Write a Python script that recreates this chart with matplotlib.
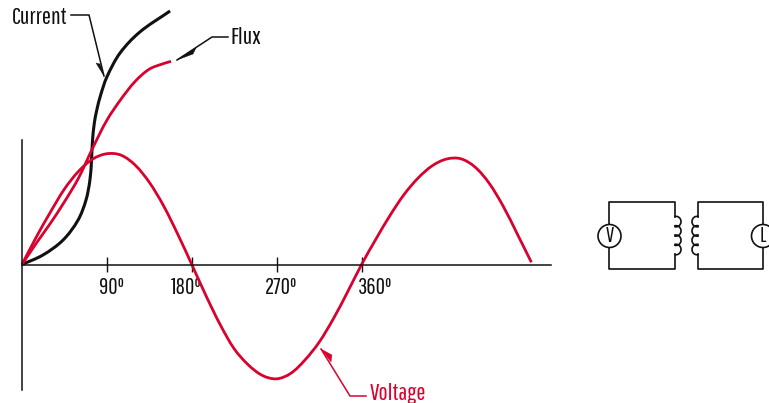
import numpy as np
import matplotlib
matplotlib.use("Agg")
import matplotlib.pyplot as plt
from matplotlib.path import Path
from matplotlib.patches import PathPatch, Circle, Arc, Polygon
from matplotlib.transforms import IdentityTransform

W, H = 769, 403
FONT = ["Pathway Gothic One", "Archivo Narrow", "Barlow Condensed", "Liberation Sans", "DejaVu Sans"]
RED = "#D9022E"
BLACK = "#111111"

# Values: x in electrical degrees, y in units of peak voltage
volt_deg = [0, 15, 30, 45, 60, 75, 90, 105, 120, 135, 150, 165, 180, 195, 210, 225, 240, 255, 270, 285,
            300, 315, 330, 345, 360, 375, 390, 405, 420, 435, 450, 465, 480, 495, 510, 525, 540]
volt_val = [0, 0.245, 0.47, 0.68, 0.84, 0.95, 0.998, 0.985, 0.895, 0.74, 0.53, 0.275, 0.0, -0.28, -0.54,
            -0.76, -0.905, -1.0, -1.03, -0.98, -0.86, -0.70, -0.49, -0.25, 0.0, 0.226, 0.44, 0.63, 0.78,
            0.89, 0.95, 0.953, 0.88, 0.735, 0.527, 0.276, 0.02]
flux_deg = [0, 15, 30, 45, 60, 75, 90, 105, 120, 135, 150, 158]
flux_val = [0, 0.19, 0.37, 0.565, 0.78, 1.05, 1.30, 1.49, 1.65, 1.76, 1.81, 1.83]
curr_deg = [0, 22.3, 43.5, 59.4, 67.8, 72, 73.7, 74.6, 76.6, 79.5, 83.5, 90, 103.9, 125, 157]
curr_val = [0, 0.086, 0.22, 0.40, 0.58, 0.76, 0.94, 1.10, 1.27, 1.40, 1.53, 1.69, 1.905, 2.095, 2.284]
tick_deg = [90, 180, 270, 360]
tick_labels = ["90º", "180º", "270º", "360º"]
label_deg = [95, 174, 275, 374]

# Pixel layout
X0, PX_PER_DEG = 22.0, 0.9433
Y0, PX_PER_UNIT = 264.5, 111.0

fig = plt.figure(figsize=(W / 100, H / 100), dpi=100)
ax = fig.add_axes([0, 0, 1, 1])
ax.set_xlim(-X0 / PX_PER_DEG, (W - X0) / PX_PER_DEG)
ax.set_ylim((Y0 - H) / PX_PER_UNIT, Y0 / PX_PER_UNIT)
ax.axis("off")
px = fig.add_axes([0, 0, 1, 1], facecolor="none")
px.set_xlim(0, W)
px.set_ylim(H, 0)
px.axis("off")


def smooth(axes, x, y, **kw):
    """Smooth Bezier curve through the points, worked out in screen space."""
    p = axes.transData.transform(np.column_stack([x, y]))
    seg = np.linalg.norm(np.diff(p, axis=0), axis=1)
    d = np.zeros_like(p)
    d[1:-1] = p[2:] - p[:-2]
    d[0] = p[1] - p[0]
    d[-1] = p[-1] - p[-2]
    d /= np.linalg.norm(d, axis=1, keepdims=True)
    verts = [p[0]]
    codes = [Path.MOVETO]
    for i in range(len(p) - 1):
        h = seg[i] / 3
        verts += [p[i] + d[i] * h, p[i + 1] - d[i + 1] * h, p[i + 1]]
        codes += [Path.CURVE4] * 3
    axes.add_patch(PathPatch(Path(verts, codes), fill=False, capstyle="butt", joinstyle="round",
                             transform=IdentityTransform(), **kw))


# Axes lines and ticks
px.plot([22, 22], [140, 390], color=BLACK, lw=1.1)
px.plot([22, 551], [264.5, 264.5], color=BLACK, lw=1.1)
ax.vlines(tick_deg, -0.0675, 0.0675, color=BLACK, lw=1.0)
for d, s in zip(label_deg, tick_labels):
    ax.text(d, -0.21, s, family=FONT, fontsize=16.5, color=BLACK, ha="center", va="center", zorder=1)

# Curves
smooth(ax, curr_deg, curr_val, edgecolor=BLACK, lw=2.2, zorder=3)
smooth(ax, flux_deg, flux_val, edgecolor=RED, lw=2.0, zorder=4)
smooth(ax, volt_deg, volt_val, edgecolor=RED, lw=2.0, zorder=4)


def leader(pts, head, color):
    xs, ys = zip(*pts)
    px.plot(xs, ys, color=color, lw=1.1, solid_joinstyle="miter")
    px.add_patch(Polygon(head, closed=True, facecolor=color, edgecolor=color, lw=0.3))


leader([(71, 15), (89, 15), (104, 76)], [(104, 76), (96, 63), (100, 64)], BLACK)
leader([(177, 60), (212, 37), (228, 37)], [(177, 60), (196, 48), (193, 54)], BLACK)
leader([(321, 349), (350, 396), (366, 396)], [(321, 349), (332, 355), (331, 362)], RED)

px.text(12, 18, "Current", family=FONT, fontsize=17.5, color=BLACK, ha="left", va="center")
px.text(230, 37, "Flux", family=FONT, fontsize=17.5, color=BLACK, ha="left", va="center")
px.text(370, 393.5, "Voltage", family=FONT, fontsize=17.5, color=RED, ha="left", va="center")

# Circuit
lw = 1.2
px.plot([675, 675, 609, 609, 675, 675], [217, 202, 202, 269, 269, 254], color=BLACK, lw=lw)
px.plot([698, 698, 763, 763, 698, 698], [217, 202, 202, 269, 269, 254], color=BLACK, lw=lw)
for i in range(4):
    cy = 221.6 + i * 9.3
    px.add_patch(Arc((676, cy), 10, 10.5, theta1=-110, theta2=110, color=BLACK, lw=lw))
    px.add_patch(Arc((697, cy), 10, 10.5, theta1=70, theta2=290, color=BLACK, lw=lw))
px.add_patch(Circle((609.5, 236), 11.5, facecolor="white", edgecolor=BLACK, lw=lw, zorder=5))
px.add_patch(Circle((763, 236), 11.5, facecolor="white", edgecolor=BLACK, lw=lw, zorder=5))
px.text(609.5, 236, "V", family=FONT, fontsize=15, color=BLACK, ha="center", va="center", zorder=6)
px.text(763, 236, "L", family=FONT, fontsize=15, color=BLACK, ha="center", va="center", zorder=6)

fig.savefig("out.png", dpi=100, facecolor="white")
